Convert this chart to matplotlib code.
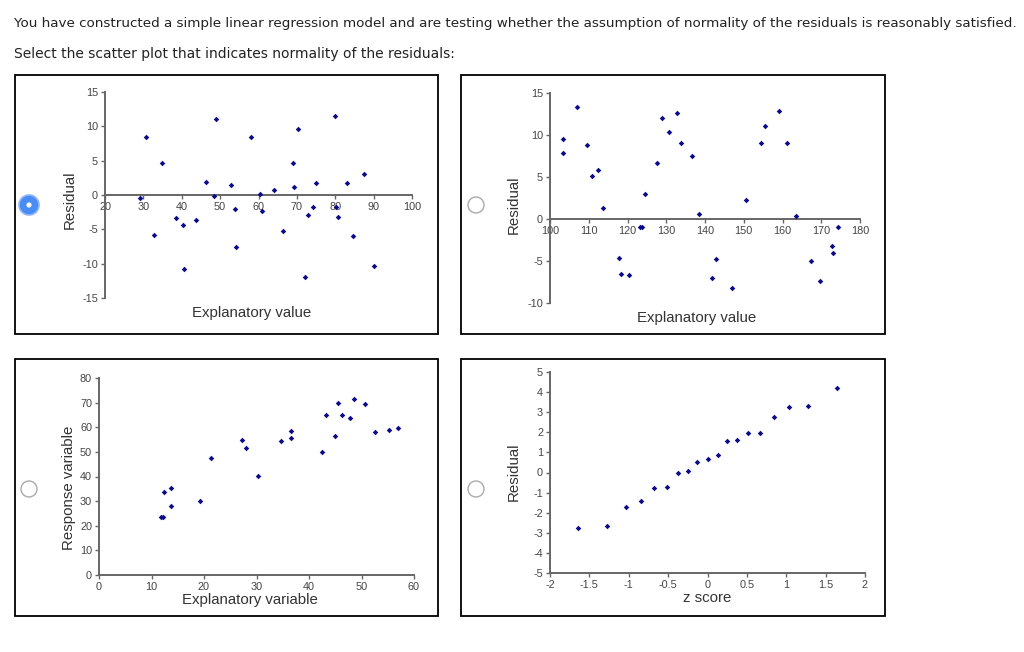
import matplotlib
matplotlib.use("Agg")
import matplotlib.pyplot as plt
from matplotlib.patches import Rectangle, Circle

plt.rcParams["axes.unicode_minus"] = False

W, H = 1024, 652

# panel 1: residuals vs explanatory value (random scatter)
p1_x = [29.1, 30.7, 32.7, 34.9, 38.5, 40.2, 40.5, 43.6, 46.4, 48.4, 49.0, 52.9, 54.0, 54.1,
        58.1, 60.4, 60.9, 64.1, 66.3, 69.0, 69.2, 70.2, 72.0, 72.9, 74.3, 75.0, 80.0, 80.2,
        80.7, 83.0, 84.5, 87.6, 90.0]
p1_y = [-0.4, 8.4, -5.8, 4.7, -3.3, -4.4, -10.8, -3.7, 1.9, -0.1, 11.0, 1.5, -2.0, -7.6,
        8.5, 0.2, -2.3, 0.7, -5.2, 4.6, 1.1, 9.6, -11.9, -2.9, -1.7, 1.7, 11.5, -1.7,
        -3.2, 1.7, -6.0, 3.0, -10.4]

# panel 2: residuals vs explanatory value (wavy pattern)
p2_x = [103.3, 103.4, 106.9, 109.6, 110.8, 112.3, 113.8, 117.7, 118.4, 120.5, 123.3, 123.7,
        124.6, 127.5, 128.8, 130.7, 132.7, 133.8, 136.7, 138.4, 141.8, 142.9, 146.9, 150.6,
        154.4, 155.6, 159.0, 161.1, 163.4, 167.4, 169.6, 172.7, 173.0, 174.2]
p2_y = [7.8, 9.5, 13.3, 8.8, 5.1, 5.8, 1.3, -4.7, -6.6, -6.7, -1.0, -1.0,
        3.0, 6.7, 12.0, 10.3, 12.6, 9.0, 7.5, 0.6, -7.0, -4.8, -8.2, 2.3,
        9.0, 11.1, 12.8, 9.1, 0.4, -5.0, -7.4, -3.2, -4.1, -0.9]

# panel 3: response vs explanatory variable
p3_x = [11.9, 12.2, 12.4, 13.8, 13.8, 19.3, 21.3, 27.3, 28.0, 30.3, 34.6, 36.5, 36.5, 42.4,
        43.3, 44.9, 45.5, 46.3, 47.8, 48.6, 50.7, 52.6, 55.3, 56.9]
p3_y = [23.6, 23.4, 33.6, 35.4, 28.0, 29.9, 47.6, 54.9, 51.6, 40.1, 54.5, 58.4, 55.8, 50.0,
        64.9, 56.5, 69.9, 65.1, 63.9, 71.6, 69.3, 58.2, 58.8, 59.5]

# panel 4: residuals vs z score
p4_x = [-1.64, -1.28, -1.03, -0.84, -0.68, -0.52, -0.38, -0.25, -0.13, 0.0, 0.13, 0.25,
        0.38, 0.52, 0.67, 0.84, 1.03, 1.28, 1.65]
p4_y = [-2.77, -2.68, -1.74, -1.41, -0.78, -0.71, 0.0, 0.08, 0.51, 0.68, 0.86, 1.59,
        1.64, 1.95, 1.99, 2.75, 3.28, 3.29, 4.22]

question = ("You have constructed a simple linear regression model and are testing whether "
            "the assumption of normality of the residuals is reasonably satisfied.")
prompt = "Select the scatter plot that indicates normality of the residuals:"

fig = plt.figure(figsize=(W / 100, H / 100), dpi=100)
fig.patch.set_facecolor("white")

# overlay in pixel coordinates for boxes, radio buttons and question text
bg = fig.add_axes([0, 0, 1, 1])
bg.set_xlim(0, W)
bg.set_ylim(H, 0)
bg.axis("off")

bg.text(14, 23, question, fontsize=9.7, color="#222222", va="center", ha="left",
        family="DejaVu Sans")
bg.text(14, 54, prompt, fontsize=10.0, color="#222222", va="center", ha="left",
        family="DejaVu Sans")

boxes = [(15, 75, 438, 334), (461, 75, 885, 334), (15, 359, 438, 616), (461, 359, 885, 616)]
for x0, y0, x1, y1 in boxes:
    bg.add_patch(Rectangle((x0, y0), x1 - x0, y1 - y0, fill=False, edgecolor="black", lw=1.3))

# radio buttons
bg.add_patch(Circle((29, 205), 10, facecolor="#4a8cf6", edgecolor="#8fb6f8", lw=1.2))
bg.add_patch(Circle((29, 205), 2.6, facecolor="white", edgecolor="none"))
for cx, cy in [(476, 205), (29, 489), (476, 489)]:
    bg.add_patch(Circle((cx, cy), 8, facecolor="white", edgecolor="#aaaaaa", lw=1))


def make_axes(x0, x1, ytop, ybot):
    return fig.add_axes([x0 / W, 1 - ybot / H, (x1 - x0) / W, (ybot - ytop) / H])


def style(ax, xlim, ylim, xticks, yticks, xlabels=None, zero_line=False):
    ax.set_facecolor("none")
    ax.set_xlim(*xlim)
    ax.set_ylim(*ylim)
    ax.set_xticks(xticks)
    ax.set_yticks(yticks)
    if xlabels is not None:
        ax.set_xticklabels(xlabels)
    for s in ["top", "right"]:
        ax.spines[s].set_visible(False)
    for s in ["left", "bottom"]:
        ax.spines[s].set_color("#666666")
        ax.spines[s].set_linewidth(1.4)
    if zero_line:
        ax.spines["bottom"].set_position(("data", 0))
    ax.tick_params(length=3, width=1, color="#666666", labelcolor="#444444",
                   labelsize=7.8, pad=2)
    for lab in ax.get_xticklabels() + ax.get_yticklabels():
        lab.set_family("Liberation Sans")


mk = dict(marker="D", s=8, color="#0b0b8a", linewidths=0, zorder=3, clip_on=False)
lab_kw = dict(fontsize=10.8, color="#333333", family="Liberation Sans",
              ha="center", va="center")

ax1 = make_axes(105, 412, 92, 298)
ax1.scatter(p1_x, p1_y, **mk)
style(ax1, (20, 100), (-15, 15), range(20, 101, 10), range(-15, 16, 5), zero_line=True)
bg.text(70, 200, "Residual", rotation=90, **lab_kw)
bg.text(252, 313, "Explanatory value", **lab_kw)

ax2 = make_axes(550, 860, 93, 303)
ax2.scatter(p2_x, p2_y, **mk)
style(ax2, (100, 180), (-10, 15), range(100, 181, 10), range(-10, 16, 5), zero_line=True)
bg.text(514, 205, "Residual", rotation=90, **lab_kw)
bg.text(697, 318, "Explanatory value", **lab_kw)

ax3 = make_axes(99, 414, 378, 575)
ax3.scatter(p3_x, p3_y, **mk)
style(ax3, (0, 60), (0, 80), range(0, 61, 10), range(0, 81, 10))
bg.text(69, 488, "Response variable", rotation=90, **lab_kw)
bg.text(250, 600, "Explanatory variable", **lab_kw)

z_ticks = [-2, -1.5, -1, -0.5, 0, 0.5, 1, 1.5, 2]
ax4 = make_axes(550, 865, 372, 573)
ax4.scatter(p4_x, p4_y, **mk)
style(ax4, (-2, 2), (-5, 5), z_ticks, range(-5, 6), xlabels=[f"{t:g}" for t in z_ticks])
bg.text(514, 472, "Residual", rotation=90, **lab_kw)
bg.text(707, 598, "z score", **lab_kw)

fig.savefig("out.png", dpi=100)
